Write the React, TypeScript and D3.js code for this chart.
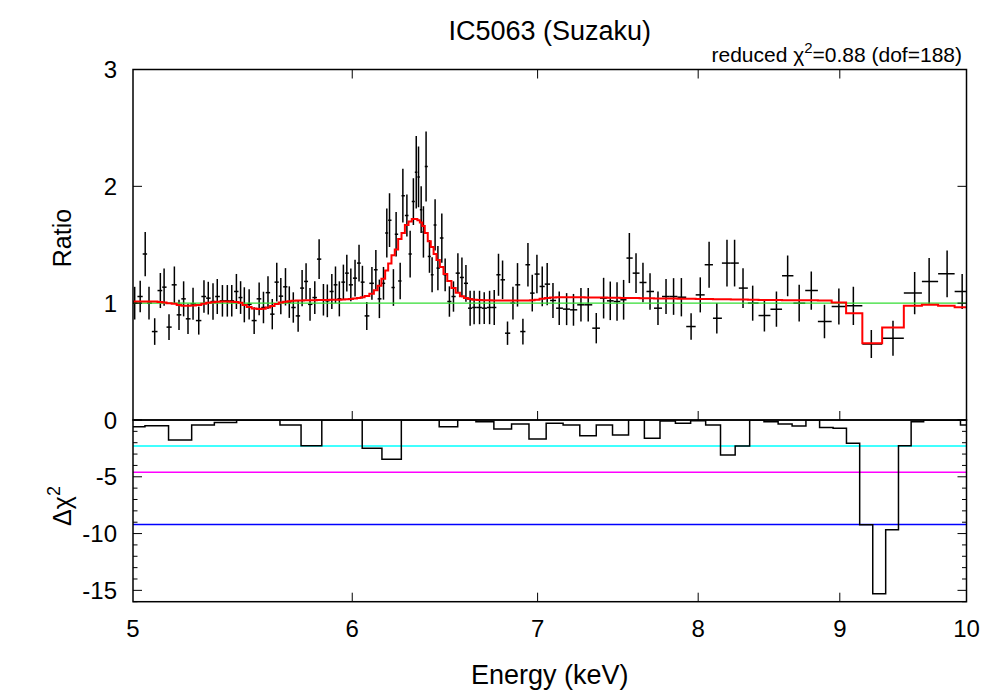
import { useEffect, useRef } from "react"
import * as d3 from "d3"

// Ratio panel: data points (bin centre energy in keV), ratio, 1-sigma error, model ratio
const energies = [
  5.007, 5.03, 5.051, 5.067, 5.091, 5.115, 5.131, 5.152, 5.175, 5.195,
  5.215, 5.234, 5.256, 5.281, 5.304, 5.323, 5.344, 5.363, 5.386, 5.408,
  5.428, 5.449, 5.468, 5.485, 5.507, 5.53, 5.553, 5.573, 5.594, 5.614,
  5.635, 5.654, 5.676, 5.694, 5.713, 5.736, 5.755, 5.774, 5.793, 5.816,
  5.837, 5.858, 5.877, 5.899, 5.917, 5.936, 5.956, 5.973, 5.993, 6.014,
  6.034, 6.051, 6.073, 6.099, 6.119, 6.137, 6.158, 6.175, 6.189, 6.209,
  6.223, 6.244, 6.258, 6.279, 6.296, 6.313, 6.328, 6.34, 6.354, 6.366,
  6.38, 6.398, 6.412, 6.428, 6.443, 6.464, 6.482, 6.505, 6.527, 6.551,
  6.573, 6.595, 6.618, 6.64, 6.67, 6.696, 6.726, 6.752, 6.776, 6.799,
  6.827, 6.858, 6.884, 6.915, 6.944, 6.969, 6.996, 7.027, 7.056, 7.09,
  7.127, 7.171, 7.212, 7.257, 7.301, 7.35, 7.395, 7.436, 7.478, 7.519,
  7.555, 7.597, 7.641, 7.686, 7.737, 7.789, 7.838, 7.889, 7.953, 8.014,
  8.073, 8.125, 8.194, 8.246, 8.304, 8.371, 8.453, 8.538, 8.618, 8.701,
  8.789, 8.886, 8.993, 9.102, 9.239, 9.407, 9.578, 9.694, 9.84, 9.964,
]

const ratios = [
  1.0, 1.057, 1.42, 1.0, 0.757, 1.108, 1.137, 0.795, 1.157, 0.9,
  1.037, 0.866, 0.994, 0.851, 1.057, 1.043, 1.014, 1.057, 1.02, 1.02,
  1.02, 1.1, 1.048, 0.986, 0.99, 0.851, 1.037, 0.963, 1.09, 0.906,
  1.18, 1.06, 1.14, 1.009, 0.963, 0.891, 1.129, 1.186, 0.99, 1.048,
  1.377, 1.029, 1.02, 1.1, 1.157, 1.037, 1.18, 1.257, 1.157, 1.214,
  1.343, 1.18, 0.891, 1.17, 1.286, 1.037, 1.17, 1.6, 1.71, 1.134,
  1.59, 1.19, 1.92, 1.75, 1.42, 1.87, 2.12, 2.08, 1.8, 1.61,
  2.17, 1.4, 1.243, 1.67, 1.3, 1.557, 1.243, 1.014, 1.057, 1.257,
  1.22, 1.17, 0.957, 0.963, 0.963, 0.957, 0.963, 0.963, 1.243, 1.2,
  0.743, 1.0, 1.157, 0.757, 1.329, 1.086, 1.249, 1.143, 1.163, 1.023,
  0.957, 0.949, 0.943, 0.986, 0.986, 0.786, 1.043, 1.02, 1.014, 1.029,
  1.386, 1.257, 1.177, 1.1, 0.957, 1.057, 1.057, 1.051, 0.8, 1.071,
  1.329, 0.871, 1.343, 1.343, 1.129, 1.0, 0.894, 0.949, 1.234, 1.0,
  1.108, 0.843, 0.971, 0.977, 0.651, 0.7, 1.086, 1.186, 1.251, 1.1,
]

const ratioErrors = [
  0.14, 0.135, 0.19, 0.14, 0.114, 0.15, 0.16, 0.11, 0.157, 0.13,
  0.15, 0.13, 0.137, 0.12, 0.14, 0.14, 0.157, 0.15, 0.135, 0.135,
  0.135, 0.15, 0.14, 0.15, 0.13, 0.115, 0.14, 0.135, 0.14, 0.13,
  0.165, 0.155, 0.16, 0.135, 0.13, 0.135, 0.155, 0.155, 0.14, 0.14,
  0.17, 0.135, 0.14, 0.15, 0.157, 0.15, 0.15, 0.157, 0.14, 0.157,
  0.157, 0.14, 0.12, 0.14, 0.17, 0.165, 0.14, 0.21, 0.23, 0.157,
  0.19, 0.157, 0.23, 0.18, 0.2, 0.2, 0.31, 0.26, 0.2, 0.22,
  0.3, 0.14, 0.15, 0.22, 0.19, 0.21, 0.14, 0.13, 0.13, 0.17,
  0.17, 0.157, 0.15, 0.143, 0.143, 0.136, 0.143, 0.15, 0.18, 0.165,
  0.1, 0.14, 0.186, 0.11, 0.186, 0.157, 0.165, 0.17, 0.18, 0.15,
  0.143, 0.137, 0.136, 0.143, 0.143, 0.13, 0.174, 0.165, 0.165, 0.17,
  0.214, 0.17, 0.17, 0.157, 0.143, 0.15, 0.157, 0.164, 0.114, 0.15,
  0.196, 0.13, 0.2, 0.2, 0.17, 0.15, 0.136, 0.15, 0.174, 0.157,
  0.164, 0.143, 0.154, 0.164, 0.12, 0.15, 0.18, 0.2, 0.2, 0.15,
]

const modelRatios = [
  1.014, 1.014, 1.014, 1.014, 1.014, 1.01, 1.005, 1.0, 0.995, 0.985,
  0.978, 0.977, 0.98, 0.985, 0.995, 1.003, 1.008, 1.012, 1.014, 1.014,
  1.012, 1.01, 1.004, 0.985, 0.968, 0.955, 0.95, 0.952, 0.962, 0.975,
  0.992, 1.005, 1.012, 1.017, 1.02, 1.022, 1.023, 1.024, 1.025, 1.026,
  1.027, 1.028, 1.028, 1.029, 1.029, 1.03, 1.032, 1.034, 1.036, 1.04,
  1.045, 1.05, 1.062, 1.08, 1.11, 1.15, 1.21, 1.28, 1.34, 1.41,
  1.46, 1.55, 1.6, 1.67, 1.7, 1.72, 1.72, 1.71, 1.69, 1.66,
  1.6, 1.53, 1.48, 1.42, 1.37, 1.31, 1.25, 1.19, 1.13, 1.09,
  1.06, 1.045, 1.035, 1.03, 1.027, 1.025, 1.024, 1.023, 1.023, 1.023,
  1.023, 1.023, 1.023, 1.023, 1.023, 1.025, 1.03, 1.038, 1.045, 1.048,
  1.05, 1.05, 1.05, 1.05, 1.049, 1.048, 1.048, 1.047, 1.046, 1.045,
  1.045, 1.044, 1.043, 1.042, 1.041, 1.04, 1.039, 1.038, 1.037, 1.036,
  1.035, 1.034, 1.033, 1.032, 1.031, 1.03, 1.028, 1.027, 1.026, 1.025,
  1.024, 1.022, 1.006, 0.914, 0.657, 0.791, 0.977, 0.986, 0.977, 0.966,
]

// Delta chi^2 panel: 0.1 keV bins
const dchiEnergies = [
  5.0, 5.1, 5.2, 5.3, 5.4, 5.5, 5.6, 5.7, 5.8, 5.9,
  6.0, 6.1, 6.2, 6.3, 6.4, 6.5, 6.6, 6.7, 6.8, 6.9,
  7.0, 7.1, 7.2, 7.3, 7.4, 7.5, 7.6, 7.7, 7.8, 7.9,
  8.0, 8.1, 8.2, 8.3, 8.4, 8.5, 8.6, 8.7, 8.8, 8.9,
  9.0, 9.1, 9.2, 9.3, 9.4, 9.5, 9.6, 9.7, 9.8, 9.9, 10.0,
]
const dchiValues = [
  -0.6, -0.5, -1.76, -0.44, -0.23, 0, 0, -0.44, -2.26, 0,
  0, -2.49, -3.46, 0, 0, -0.59, 0, -0.15, -0.79, -0.35,
  -1.67, -0.29, -0.44, -1.38, -0.44, -1.32, 0, -1.61, -0.09, -0.29,
  -0.06, -0.44, -3.08, -2.29, 0, -0.15, -0.35, -0.53, 0, -0.67,
  -0.73, -2.05, -9.23, -15.3, -9.67, -2.26, -0.15, 0, 0, 0, -0.44,
]
const dchiBinWidth = 0.1

// confidence levels (68%, 90%, 99% for 2 parameters)
const confidenceLevels = [-2.3, -4.61, -9.21]
const confidenceColors = ["#00ffff", "#ff00ff", "#0000ff"]

const energyTicks = [5, 6, 7, 8, 9, 10]
const ratioTicks = [0, 1, 2, 3]
const dchiTicks = [0, -5, -10, -15]

const FONT = "'Liberation Sans', Arial, Helvetica, sans-serif"

const App = () => {
  const svgRef = useRef<SVGSVGElement>(null)

  useEffect(() => {
    if (!svgRef.current) return
    const svg = d3.select(svgRef.current)
    svg.selectAll("*").remove()

    const left = 133
    const right = 966.5
    const top = 69.5
    const mid = 420
    const bottom = 601.7

    const x = d3.scaleLog().domain([5, 10]).range([left, right])
    const yTop = d3.scaleLinear().domain([0, 3]).range([mid, top])
    const yBot = d3.scaleLinear().domain([-16, 0]).range([bottom, mid])

    svg.append("rect").attr("width", 1000).attr("height", 700).attr("fill", "white")

    const defs = svg.append("defs")
    defs.append("clipPath").attr("id", "clipTop")
      .append("rect").attr("x", left).attr("y", top).attr("width", right - left).attr("height", mid - top)
    defs.append("clipPath").attr("id", "clipBot")
      .append("rect").attr("x", left).attr("y", mid).attr("width", right - left).attr("height", bottom - mid)

    // bin edges from neighbouring centres
    const n = energies.length
    const lo = energies.map((e, i) => (i === 0 ? e - (energies[1] - e) / 2 : Math.sqrt(energies[i - 1] * e)))
    const hi = energies.map((e, i) => (i === n - 1 ? e + (e - energies[n - 2]) / 2 : Math.sqrt(energies[i + 1] * e)))

    // ---- top panel ----
    const gTop = svg.append("g").attr("clip-path", "url(#clipTop)")

    // data crosses
    energies.forEach((e, i) => {
      gTop.append("line")
        .attr("x1", x(e)).attr("x2", x(e))
        .attr("y1", yTop(ratios[i] - ratioErrors[i])).attr("y2", yTop(ratios[i] + ratioErrors[i]))
        .attr("stroke", "#000").attr("stroke-width", 1.5)
      gTop.append("line")
        .attr("x1", x(lo[i])).attr("x2", x(hi[i]))
        .attr("y1", yTop(ratios[i])).attr("y2", yTop(ratios[i]))
        .attr("stroke", "#000").attr("stroke-width", 1.5)
    })

    // unity line
    gTop.append("line")
      .attr("x1", left).attr("x2", right)
      .attr("y1", yTop(1)).attr("y2", yTop(1))
      .attr("stroke", "#33dd33").attr("stroke-width", 1.2)

    // model step line
    const modelPts: [number, number][] = []
    energies.forEach((_, i) => {
      modelPts.push([lo[i], modelRatios[i]])
      modelPts.push([hi[i], modelRatios[i]])
    })
    gTop.append("path")
      .datum(modelPts)
      .attr("fill", "none")
      .attr("stroke", "#ff0000")
      .attr("stroke-width", 2)
      .attr("d", d3.line<[number, number]>().x((d) => x(d[0])).y((d) => yTop(d[1])))

    // ---- bottom panel ----
    const gBot = svg.append("g").attr("clip-path", "url(#clipBot)")
    confidenceLevels.forEach((lvl, i) => {
      gBot.append("line")
        .attr("x1", left).attr("x2", right)
        .attr("y1", yBot(lvl)).attr("y2", yBot(lvl))
        .attr("stroke", confidenceColors[i]).attr("stroke-width", 1.5)
    })
    const dchiPts: [number, number][] = []
    dchiEnergies.forEach((e, i) => {
      dchiPts.push([e - dchiBinWidth / 2, dchiValues[i]])
      dchiPts.push([e + dchiBinWidth / 2, dchiValues[i]])
    })
    gBot.append("path")
      .datum(dchiPts)
      .attr("fill", "none")
      .attr("stroke", "#000")
      .attr("stroke-width", 1.5)
      .attr("d", d3.line<[number, number]>().x((d) => x(d[0])).y((d) => yBot(d[1])))

    // ---- frames and ticks ----
    const axes = svg.append("g").attr("stroke", "#000").attr("fill", "none")
    axes.append("rect").attr("x", left).attr("y", top).attr("width", right - left).attr("height", mid - top).attr("stroke-width", 1.5)
    axes.append("rect").attr("x", left).attr("y", mid).attr("width", right - left).attr("height", bottom - mid).attr("stroke-width", 1.5)

    const major = 9
    const minor = 4.5
    energyTicks.slice(1, -1).forEach((t) => {
      const px = x(t)
      axes.append("line").attr("x1", px).attr("x2", px).attr("y1", top).attr("y2", top + major).attr("stroke-width", 1)
      axes.append("line").attr("x1", px).attr("x2", px).attr("y1", mid).attr("y2", mid - major).attr("stroke-width", 1)
      axes.append("line").attr("x1", px).attr("x2", px).attr("y1", bottom).attr("y2", bottom - major).attr("stroke-width", 1)
    })
    ratioTicks.forEach((t) => {
      const py = yTop(t)
      axes.append("line").attr("x1", left).attr("x2", left + major).attr("y1", py).attr("y2", py).attr("stroke-width", 1)
      axes.append("line").attr("x1", right).attr("x2", right - major).attr("y1", py).attr("y2", py).attr("stroke-width", 1)
    })
    d3.range(-16, 1).forEach((t) => {
      const py = yBot(t)
      const len = t % 5 === 0 ? major : minor
      axes.append("line").attr("x1", left).attr("x2", left + len).attr("y1", py).attr("y2", py).attr("stroke-width", 1)
      axes.append("line").attr("x1", right).attr("x2", right - len).attr("y1", py).attr("y2", py).attr("stroke-width", 1)
    })

    // ---- text ----
    const txt = svg.append("g").attr("font-family", FONT).attr("fill", "#000")
    const tickSize = 24
    ratioTicks.forEach((t) => {
      txt.append("text").attr("x", 117).attr("y", yTop(t) + 8.5)
        .attr("text-anchor", "end").attr("font-size", tickSize).text(String(t))
    })
    dchiTicks.forEach((t) => {
      if (t === 0) return
      txt.append("text").attr("x", 117).attr("y", yBot(t) + 8.5)
        .attr("text-anchor", "end").attr("font-size", tickSize).text(String(t))
    })
    energyTicks.forEach((t) => {
      txt.append("text").attr("x", x(t)).attr("y", 637)
        .attr("text-anchor", "middle").attr("font-size", tickSize).text(String(t))
    })

    txt.append("text").attr("x", (left + right) / 2).attr("y", 40)
      .attr("text-anchor", "middle").attr("font-size", 27).text("IC5063 (Suzaku)")

    const chi = txt.append("text").attr("x", 962).attr("y", 62)
      .attr("text-anchor", "end").attr("font-size", 21)
    chi.append("tspan").text("reduced χ")
    chi.append("tspan").attr("dy", -9).attr("font-size", 15).text("2")
    chi.append("tspan").attr("dy", 9).text("=0.88 (dof=188)")

    txt.append("text").attr("x", (left + right) / 2).attr("y", 684)
      .attr("text-anchor", "middle").attr("font-size", 27).text("Energy (keV)")

    txt.append("text").attr("transform", "translate(71,238) rotate(-90)")
      .attr("text-anchor", "middle").attr("font-size", 25).text("Ratio")

    const dl = txt.append("text").attr("transform", "translate(71,506) rotate(-90)")
      .attr("text-anchor", "middle").attr("font-size", 25)
    dl.append("tspan").text("Δχ")
    dl.append("tspan").attr("dy", -11).attr("font-size", 18).text("2")
  }, [])

  return (
    <svg
      ref={svgRef}
      width={1000}
      height={700}
      style={{ position: "absolute", left: 0, top: 0, display: "block" }}
    ></svg>
  )
}

export default App
